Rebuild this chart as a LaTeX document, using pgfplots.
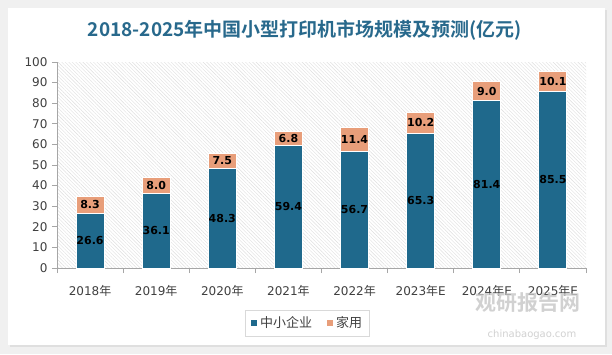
\documentclass[border=0pt]{standalone}
\usepackage{pgfplots}
\pgfplotsset{compat=1.18}
\usepackage{pgfplotstable}
\usepackage{fontspec}
\setmainfont{DejaVu Sans}
\newfontfamily\cjk{Noto Sans CJK SC}
\newfontfamily\cjkbold{Noto Sans CJK SC Bold}
\usetikzlibrary{patterns.meta}
\definecolor{cblue}{RGB}{31,105,140}
\definecolor{corange}{RGB}{232,158,122}
\definecolor{ctitle}{RGB}{40,105,140}
\definecolor{ctext}{RGB}{64,64,64}

\pgfplotstableread{
x a b
0 26.6 8.3
1 36.1 8.0
2 48.3 7.5
3 59.4 6.8
4 56.7 11.4
5 65.3 10.2
6 81.4 9.0
7 85.5 10.1
}\data

\begin{document}
\begin{tikzpicture}
\useasboundingbox (0,0) rectangle (612pt,354pt);
\fill[gray!12] (0,0) rectangle (612pt,354pt);
\fill[gray!25] (10pt,7pt) rectangle (607pt,344pt);
\fill[white] (8pt,9pt) rectangle (605pt,346pt);
\node[font=\cjkbold\fontsize{19}{21}\selectfont, text=ctitle] at (305pt,324pt) {2018-2025年中国小型打印机市场规模及预测(亿元)};
\begin{axis}[
  at={(57pt,86pt)}, anchor=south west, scale only axis,
  width=529pt, height=206pt,
  ybar stacked, bar width=28pt,
  xmin=-0.5, xmax=7.5, ymin=0, ymax=100,
  ytick={0,10,...,100},
  xtick={0,...,7},
  xticklabels={2018{\cjk 年},2019{\cjk 年},2020{\cjk 年},2021{\cjk 年},2022{\cjk 年},2023{\cjk 年}E,2024{\cjk 年}E,2025{\cjk 年}E},
  minor xtick={-0.5,0.5,...,7.5},
  major x tick style={draw=none},
  tick align=outside,
  major tick length=5pt, minor tick length=5pt,
  tick style={gray!70, line width=0.8pt},
  axis x line*=bottom, axis y line*=left,
  axis line style={gray!70, line width=0.8pt},
  axis background/.style={pattern={Lines[angle=-45,distance=2.5pt,line width=0.4pt]}, pattern color=gray!25},
  ticklabel style={font=\fontsize{12}{14}\selectfont, text=ctext},
  /pgf/number format/assume math mode=true,
  yticklabel style={xshift=-1pt},
  xticklabel style={yshift=-9pt},
  nodes near coords,
  point meta=explicit,
  nodes near coords style={/pgf/number format/fixed, /pgf/number format/fixed zerofill, /pgf/number format/precision=1, /pgf/number format/assume math mode=true},
  every node near coord/.append style={anchor=center, font=\bfseries\fontsize{11}{13}\selectfont, text=black},
  legend style={at={(0.473,-0.267)}, anchor=center, legend columns=2, draw=gray!30, font=\cjk\fontsize{13}{15}\selectfont, text=ctext, inner sep=5pt, /tikz/every even column/.append style={column sep=12pt}},
  legend image code/.code={\fill[#1] (0pt,-3.5pt) rectangle (7pt,3.5pt);},
]
\addplot[fill=cblue, draw=white, line width=1pt] table[x=x, y=a, meta=a]{\data};
\addplot[fill=corange, draw=white, line width=1pt] table[x=x, y=b, meta=b]{\data};
\legend{中小企业,家用}
\end{axis}
\node[font=\cjkbold\fontsize{21}{22}\selectfont, text=gray!45, opacity=0.8] at (528pt,51pt) {观研报告网};
\node[font=\fontsize{10}{11}\selectfont, text=gray!45, opacity=0.8] at (532pt,19pt) {chinabaogao.com};
\end{tikzpicture}
\end{document}
